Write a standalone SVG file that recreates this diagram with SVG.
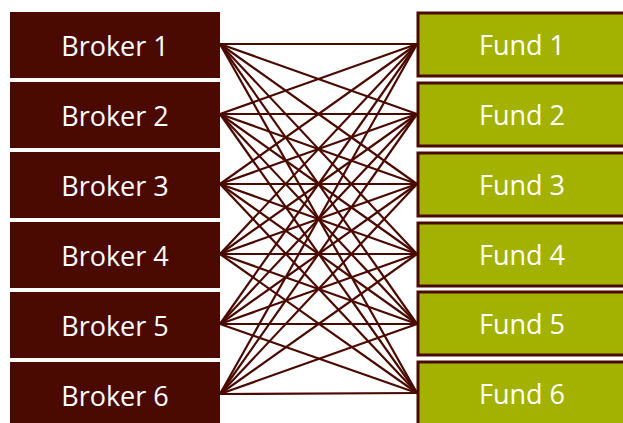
<svg xmlns="http://www.w3.org/2000/svg" width="623" height="423" viewBox="0 0 623 423">
<style>
.broker{fill:#4a0a02}
.fund{fill:#a3b200;stroke:#4a0a02;stroke-width:3}
.lbl{font-family:"Open Sans","Liberation Sans",sans-serif;font-size:27px;fill:#ffffff;text-anchor:middle;dominant-baseline:central}
#connectors line{stroke:#4a0a02;stroke-width:2.2}
</style>
<rect width="623" height="423" fill="#ffffff"/>
<g id="connectors">
<line x1="220" y1="44" x2="417" y2="44"/><line x1="220" y1="44" x2="417" y2="114"/><line x1="220" y1="44" x2="417" y2="184"/><line x1="220" y1="44" x2="417" y2="254"/><line x1="220" y1="44" x2="417" y2="324"/><line x1="220" y1="44" x2="417" y2="393"/>
<line x1="220" y1="114" x2="417" y2="44"/><line x1="220" y1="114" x2="417" y2="114"/><line x1="220" y1="114" x2="417" y2="184"/><line x1="220" y1="114" x2="417" y2="254"/><line x1="220" y1="114" x2="417" y2="324"/><line x1="220" y1="114" x2="417" y2="393"/>
<line x1="220" y1="184" x2="417" y2="44"/><line x1="220" y1="184" x2="417" y2="114"/><line x1="220" y1="184" x2="417" y2="184"/><line x1="220" y1="184" x2="417" y2="254"/><line x1="220" y1="184" x2="417" y2="324"/><line x1="220" y1="184" x2="417" y2="393"/>
<line x1="220" y1="254" x2="417" y2="44"/><line x1="220" y1="254" x2="417" y2="114"/><line x1="220" y1="254" x2="417" y2="184"/><line x1="220" y1="254" x2="417" y2="254"/><line x1="220" y1="254" x2="417" y2="324"/><line x1="220" y1="254" x2="417" y2="393"/>
<line x1="220" y1="324" x2="417" y2="44"/><line x1="220" y1="324" x2="417" y2="114"/><line x1="220" y1="324" x2="417" y2="184"/><line x1="220" y1="324" x2="417" y2="254"/><line x1="220" y1="324" x2="417" y2="324"/><line x1="220" y1="324" x2="417" y2="393"/>
<line x1="220" y1="394" x2="417" y2="44"/><line x1="220" y1="394" x2="417" y2="114"/><line x1="220" y1="394" x2="417" y2="184"/><line x1="220" y1="394" x2="417" y2="254"/><line x1="220" y1="394" x2="417" y2="324"/><line x1="220" y1="394" x2="417" y2="393"/>
</g>
<g id="broker1"><rect class="broker" x="10" y="12" width="210" height="66"/><text class="lbl" x="115" y="45">Broker 1</text></g>
<g id="broker2"><rect class="broker" x="10" y="82" width="210" height="66"/><text class="lbl" x="115" y="115">Broker 2</text></g>
<g id="broker3"><rect class="broker" x="10" y="152" width="210" height="66"/><text class="lbl" x="115" y="185">Broker 3</text></g>
<g id="broker4"><rect class="broker" x="10" y="222" width="210" height="66"/><text class="lbl" x="115" y="255">Broker 4</text></g>
<g id="broker5"><rect class="broker" x="10" y="292" width="210" height="66"/><text class="lbl" x="115" y="325">Broker 5</text></g>
<g id="broker6"><rect class="broker" x="10" y="362" width="210" height="66"/><text class="lbl" x="115" y="395">Broker 6</text></g>
<g id="fund1"><rect class="fund" x="418" y="13" width="210" height="63"/><text class="lbl" x="522" y="44">Fund 1</text></g>
<g id="fund2"><rect class="fund" x="418" y="83" width="210" height="63"/><text class="lbl" x="522" y="114">Fund 2</text></g>
<g id="fund3"><rect class="fund" x="418" y="153" width="210" height="63"/><text class="lbl" x="522" y="184">Fund 3</text></g>
<g id="fund4"><rect class="fund" x="418" y="223" width="210" height="63"/><text class="lbl" x="522" y="254">Fund 4</text></g>
<g id="fund5"><rect class="fund" x="418" y="292" width="210" height="63"/><text class="lbl" x="522" y="323">Fund 5</text></g>
<g id="fund6"><rect class="fund" x="418" y="362" width="210" height="66"/><text class="lbl" x="522" y="393">Fund 6</text></g>
</svg>
